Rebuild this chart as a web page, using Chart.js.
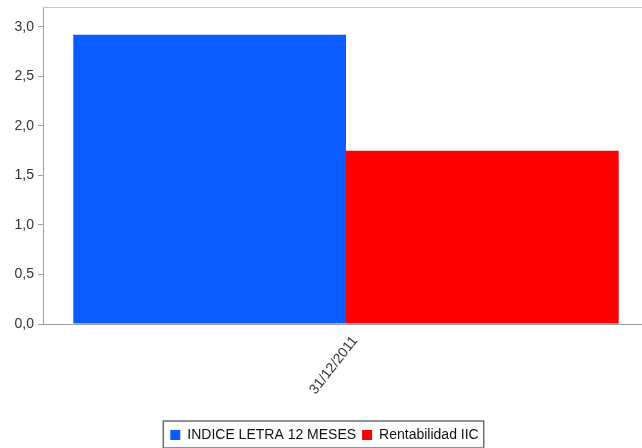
<!DOCTYPE html>
<html>
<head>
<meta charset="utf-8">
<script src="https://cdn.jsdelivr.net/npm/chart.js@4"></script>
<style>
  html, body { margin: 0; padding: 0; background: #fff; overflow: hidden; }
  #wrap { width: 650px; height: 452px; }
</style>
</head>
<body>
<div id="wrap"><canvas id="grafico"></canvas></div>
<script>
// datos
var categorias = ["31/12/2011"];
var nombresSeries = ["INDICE LETRA 12 MESES", "Rentabilidad IIC"];
var indiceLetra = [2.92];
var rentabilidad = [1.75];
var coloresSeries = ["#0a5cff", "#ff0000"];

// borde gris arriba del area y caja de la leyenda
var bordes = {
    id: 'bordes',
    afterDraw: function (chart) {
        var c = chart.ctx, a = chart.chartArea;
        c.save();
        c.strokeStyle = '#c4c4c4';
        c.lineWidth = 1;
        c.beginPath();
        c.moveTo(a.left, a.top + 0.5);
        c.lineTo(a.right, a.top + 0.5);
        c.stroke();

        var cajas = chart.legend.legendHitBoxes;
        if (cajas && cajas.length) {
            var izq = Math.min.apply(null, cajas.map(function (b) { return b.left; }));
            var der = Math.max.apply(null, cajas.map(function (b) { return b.left + b.width; }));
            var arr = Math.min.apply(null, cajas.map(function (b) { return b.top; }));
            var aba = Math.max.apply(null, cajas.map(function (b) { return b.top + b.height; }));
            c.strokeStyle = '#6e6e6e';
            c.lineWidth = 1.5;
            c.strokeRect(izq - 7, arr - 7, der - izq + 12, aba - arr + 13);
        }
        c.restore();
    }
};

var barData = {
    labels: categorias,
    datasets: [
        {
            label: nombresSeries[0],
            backgroundColor: coloresSeries[0],
            borderWidth: 0,
            data: indiceLetra
        },
        {
            label: nombresSeries[1],
            backgroundColor: coloresSeries[1],
            borderWidth: 0,
            data: rentabilidad
        }
    ]
};

var barOptions = {
    responsive: true,
    maintainAspectRatio: false,
    animation: false,
    layout: { padding: { top: 7, right: 1, left: 0, bottom: 0 } },
    datasets: { bar: { categoryPercentage: 0.9, barPercentage: 1 } },
    plugins: {
        tooltip: { enabled: false },
        legend: {
            position: 'bottom',
            labels: {
                boxWidth: 10,
                boxHeight: 10,
                color: '#111',
                padding: 6,
                font: { family: 'Liberation Sans, Arial, sans-serif', size: 14 }
            }
        }
    },
    scales: {
        x: {
            grid: { display: false },
            border: { color: '#a0a0a0' },
            ticks: {
                color: '#333',
                minRotation: 52,
                maxRotation: 52,
                padding: 1,
                labelOffset: 9,
                font: { family: 'Liberation Sans, Arial, sans-serif', size: 14 }
            },
            afterFit: function (s) { s.height = 98; s.paddingLeft = 0; s.paddingRight = 0; }
        },
        y: {
            min: 0,
            max: 3.2,
            grid: { drawOnChartArea: false, tickLength: 5, color: '#a0a0a0' },
            border: { color: '#a0a0a0' },
            ticks: {
                stepSize: 0.5,
                includeBounds: false,
                padding: 4,
                color: '#333',
                font: { family: 'Liberation Sans, Arial, sans-serif', size: 14 },
                callback: function (v) { return v.toFixed(1).replace('.', ','); }
            },
            afterFit: function (s) { s.width = 43; s.paddingTop = 0; s.paddingBottom = 0; }
        }
    }
};

var ctx1 = document.getElementById("grafico").getContext("2d");
new Chart(ctx1, { type: 'bar', data: barData, options: barOptions, plugins: [bordes] });
</script>
</body>
</html>
